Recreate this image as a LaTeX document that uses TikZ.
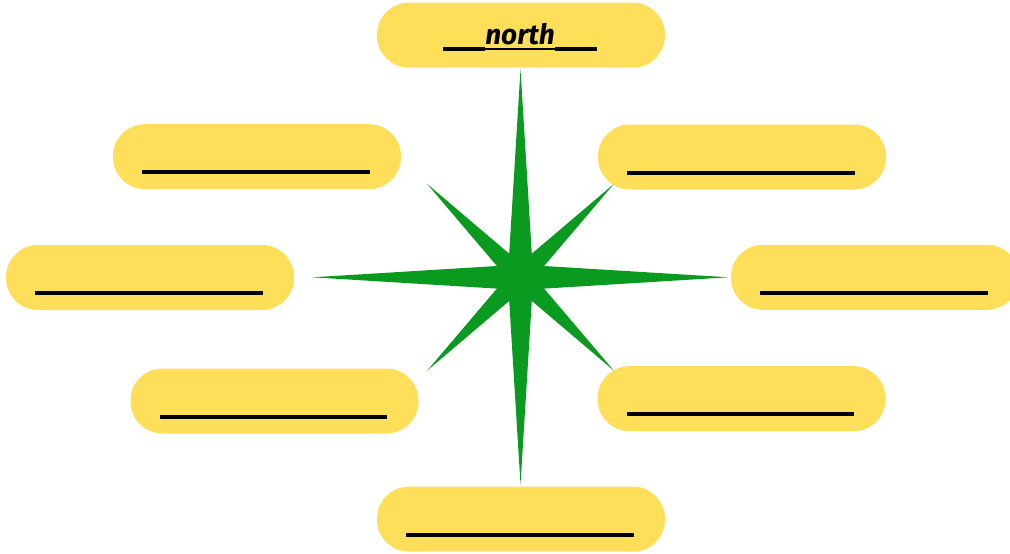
\documentclass[tikz,border=0pt]{standalone}
\usepackage{fontspec}
\setmainfont{Fira Sans}
\definecolor{pillyellow}{HTML}{FFDE59}
\definecolor{stargreen}{HTML}{0A9A1F}
\begin{document}
\begin{tikzpicture}[x=1pt,y=-1pt,
  pillbox/.style={fill=pillyellow, draw=none, minimum width=288pt, minimum height=65pt, rounded corners=32pt, inner sep=0pt},
  blank/.style={line width=4pt, black},
  starfill/.style={fill=stargreen, draw=none}
]
\clip (0,0) rectangle (1010,554);
\fill[white] (0,0) rectangle (1010,554);
% pills
\node[pillbox] (n)  at (521,35.2) {};
\node[pillbox] (nw) at (257,156.7) {};
\node[pillbox] (ne) at (742,157) {};
\node[pillbox] (w)  at (150,277.5) {};
\node[pillbox] (e)  at (875,277.3) {};
\node[pillbox] (sw) at (274.5,401) {};
\node[pillbox] (se) at (741.5,398.7) {};
\node[pillbox] (s)  at (521,519.2) {};
% blanks
\foreach \p in {nw,ne,w,e,sw,se,s}{
  \draw[blank] ([xshift=29.5pt,yshift=-15.5pt]\p.west) -- ([xshift=-31.5pt,yshift=-15.5pt]\p.east);
}
% north label
\node[font=\bfseries\itshape\fontsize{28}{28}\selectfont, anchor=base, inner sep=0pt] (nt) at (520,45) {north};
\draw[line width=1.6pt] ([yshift=-3.8pt]nt.base west) -- ([yshift=-3.8pt]nt.base east);
\draw[blank, line width=3.6pt] ([yshift=-3.7pt]nt.base west) -- ++(-42,0);
\draw[blank, line width=3.6pt] ([yshift=-3.7pt]nt.base east) -- ++(42,0);
% star
\coordinate (c) at (520.5,277.3);
\begin{scope}[shift={(c)}]
\fill[starfill] (90:207) -- (45:17) -- (0:208) -- (-45:17) -- (-90:208) -- (-135:17) -- (180:208) -- (135:17) -- cycle;
\fill[starfill] (45:132) -- (90:14) -- (135:132) -- (180:14) -- (225:132) -- (270:14) -- (315:132) -- (0:14) -- cycle;
\end{scope}
\end{tikzpicture}
\end{document}
